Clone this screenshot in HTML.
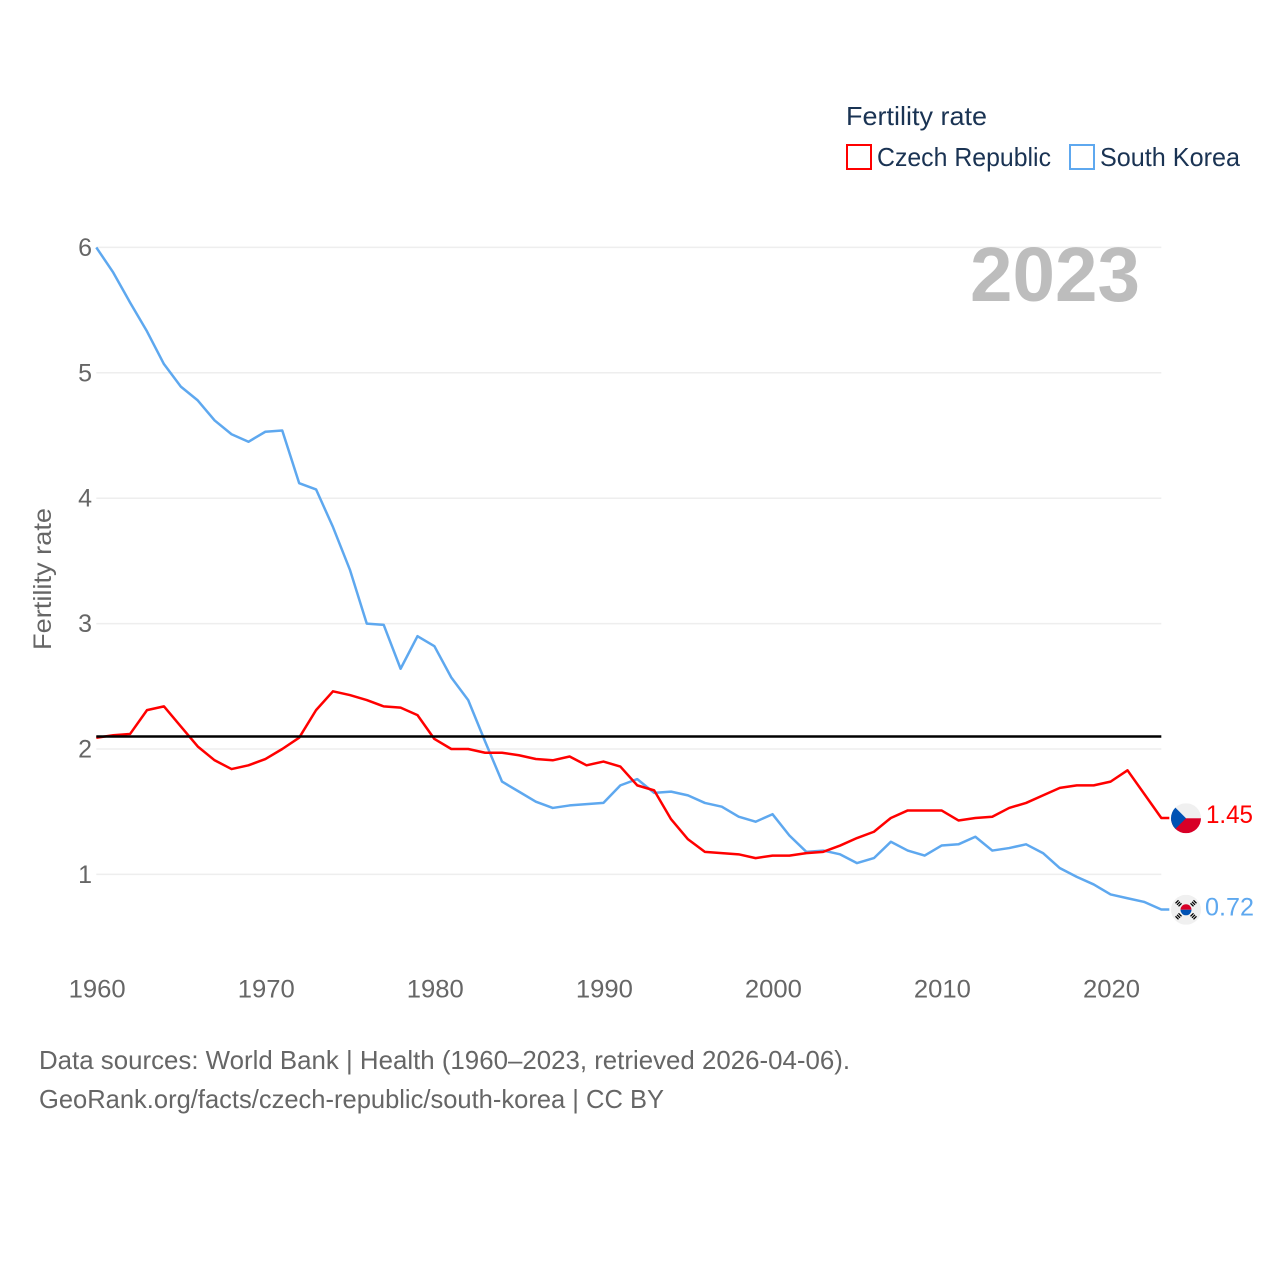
<!DOCTYPE html>
<html lang="en">
<head>
<meta charset="utf-8">
<title>Fertility rate: Czech Republic and South Korea</title>
<style>
html,body{margin:0;padding:0;background:#fff;width:1280px;height:1280px;overflow:hidden}
svg{display:block;font-family:"Liberation Sans",sans-serif}
</style>
</head>
<body>
<svg id="chart" xmlns="http://www.w3.org/2000/svg" width="1280" height="1280" viewBox="0 0 1280 1280">
  <defs>
    <clipPath id="flag-clip-cz"><circle id="cz-clip-circle" cx="1186" cy="818" r="15"></circle></clipPath>
    <clipPath id="flag-clip-kr"><circle id="kr-clip-circle" cx="1186" cy="909" r="15"></circle></clipPath>
  </defs>
  <g id="grid"></g>
  <text x="970" y="301" font-size="77" font-weight="bold" fill="#bdbdbd" textLength="170" lengthAdjust="spacingAndGlyphs">2023</text>
  <g id="yticks"></g>
  <g id="xticks"></g>
  <text transform="translate(51,650) rotate(-90)" font-size="25" fill="#666666" textLength="142" lengthAdjust="spacingAndGlyphs">Fertility rate</text>
  <g id="series"></g>
  <line id="replacement" stroke="#000000" stroke-width="2.5"></line>
  <g id="flags">
    <g id="flag-cz" clip-path="url(#flag-clip-cz)">
      <rect x="1171" y="803" width="30" height="15" fill="#f0f0f0"></rect>
      <rect x="1171" y="818" width="30" height="15" fill="#d80027"></rect>
      <polygon points="1171,803 1186,818 1171,833" fill="#0052b4"></polygon>
    </g>
    <g id="flag-kr" clip-path="url(#flag-clip-kr)">
      <rect x="1171" y="894" width="30" height="30" fill="#f0f0f0"></rect>
      <path d="M1180.500 909a5.500 5.500 0 0 1 11 0z" fill="#d80027"></path>
      <path d="M1180.500 909a5.500 5.500 0 0 0 11 0z" fill="#0052b4"></path>
      <path d="M1175.500 902.500l3-3M1177 904l3-3M1178.500 905.500l3-3M1190.500 902.500l3 3M1192 901l3 3M1193.500 899.500l3 3M1175.500 915.500l3 3M1177 914l3 3M1178.500 912.500l3 3M1190.500 915.500l3-3M1192 917l3-3M1193.500 918.500l3-3" stroke="#000000" stroke-width="1.300" fill="none"></path>
    </g>
  </g>
  <text id="label-cz" x="1206" y="823" font-size="25" fill="#ff0000" textLength="47" lengthAdjust="spacingAndGlyphs">1.45</text>
  <text id="label-kr" x="1205" y="915" font-size="25" fill="#5ea8ef" textLength="49" lengthAdjust="spacingAndGlyphs">0.72</text>

  <g>
    <text x="846" y="125" font-size="26" fill="#1a3353" textLength="141" lengthAdjust="spacingAndGlyphs">Fertility rate</text>
    <g>
      <rect x="847" y="145" width="24" height="24" fill="#ffffff" stroke="#ff0000" stroke-width="2"></rect>
      <text x="877" y="166" font-size="26" fill="#1a3353" textLength="174" lengthAdjust="spacingAndGlyphs">Czech Republic</text>
    </g>
    <g>
      <rect x="1070" y="145" width="24" height="24" fill="#ffffff" stroke="#5ea8ef" stroke-width="2"></rect>
      <text x="1100" y="166" font-size="26" fill="#1a3353" textLength="140" lengthAdjust="spacingAndGlyphs">South Korea</text>
    </g>
  </g>

  <text x="39" y="1069" font-size="26" fill="#666666" textLength="811" lengthAdjust="spacingAndGlyphs">Data sources: World Bank | Health (1960–2023, retrieved 2026-04-06).</text>
  <text x="39" y="1108" font-size="26" fill="#666666" textLength="625" lengthAdjust="spacingAndGlyphs">GeoRank.org/facts/czech-republic/south-korea | CC BY</text>
</svg>
<script>
const startYear = 1960;
const xTickYears = [1960, 1970, 1980, 1990, 2000, 2010, 2020];
const yTickValues = [1, 2, 3, 4, 5, 6];
const replacementRate = 2.1;
const czechRepublic = [2.09,2.11,2.12,2.31,2.34,2.18,2.02,1.91,1.84,1.87,1.92,2.00,2.09,2.31,2.46,2.43,2.39,2.34,2.33,2.27,2.08,2.00,2.00,1.97,1.97,1.95,1.92,1.91,1.94,1.87,1.90,1.86,1.71,1.67,1.44,1.28,1.18,1.17,1.16,1.13,1.15,1.15,1.17,1.18,1.23,1.29,1.34,1.45,1.51,1.51,1.51,1.43,1.45,1.46,1.53,1.57,1.63,1.69,1.71,1.71,1.74,1.83,1.64,1.45];
const southKorea = [6.00,5.80,5.56,5.33,5.07,4.89,4.78,4.62,4.51,4.45,4.53,4.54,4.12,4.07,3.77,3.43,3.00,2.99,2.64,2.90,2.82,2.57,2.39,2.06,1.74,1.66,1.58,1.53,1.55,1.56,1.57,1.71,1.76,1.65,1.66,1.63,1.57,1.54,1.46,1.42,1.48,1.31,1.18,1.19,1.16,1.09,1.13,1.26,1.19,1.15,1.23,1.24,1.30,1.19,1.21,1.24,1.17,1.05,0.98,0.92,0.84,0.81,0.78,0.72];

const NS = 'http://www.w3.org/2000/svg';
const X0 = 96.3, PER_YEAR = 16.905, Y1 = 874.4, PER_UNIT = 125.4, END_YEAR = 2023;
function xScale(year){ return X0 + (year - startYear) * PER_YEAR; }
function yScale(v){ return Y1 - (v - 1) * PER_UNIT; }
function make(tag, parent){ const n = document.createElementNS(NS, tag); parent.appendChild(n); return n; }

const grid = document.getElementById('grid');
const yticks = document.getElementById('yticks');
yTickValues.forEach(function(v){
  const l = make('line', grid);
  
  
  l.setAttribute('x1', xScale(startYear));
  l.setAttribute('x2', xScale(END_YEAR));
  l.setAttribute('y1', yScale(v));
  l.setAttribute('y2', yScale(v));
  l.setAttribute('stroke', '#eeeeee');
  l.setAttribute('stroke-width', '1.5');
  const t = make('text', yticks);
  
  
  t.setAttribute('x', 92);
  t.setAttribute('y', yScale(v) + 8.5);
  t.setAttribute('text-anchor', 'end');
  t.setAttribute('font-size', '25');
  t.setAttribute('fill', '#666666');
  t.textContent = v;
});

const xticks = document.getElementById('xticks');
xTickYears.forEach(function(year){
  const t = make('text', xticks);
  
  
  t.setAttribute('x', xScale(year) + 0.9);
  t.setAttribute('y', 997.500);
  t.setAttribute('text-anchor', 'middle');
  t.setAttribute('font-size', '25');
  t.setAttribute('fill', '#666666');
  t.setAttribute('textLength', '57');
  t.setAttribute('lengthAdjust', 'spacingAndGlyphs');
  t.textContent = year;
});

const seriesGroup = document.getElementById('series');
function drawSeries(values, color, name){
  const pts = values.map(function(v, i){ return xScale(startYear + i) + ',' + yScale(v); });
  pts.push((xScale(END_YEAR) + 8) + ',' + yScale(values[values.length - 1]));
  const p = make('polyline', seriesGroup);
  
  
  p.setAttribute('points', pts.join(' '));
  p.setAttribute('fill', 'none');
  p.setAttribute('stroke', color);
  p.setAttribute('stroke-width', '2.5');
  p.setAttribute('stroke-linejoin', 'round');
}
drawSeries(southKorea, '#5ea8ef', 'south-korea-line');
drawSeries(czechRepublic, '#ff0000', 'czech-republic-line');

const rep = document.getElementById('replacement');
rep.setAttribute('x1', xScale(startYear));
rep.setAttribute('x2', xScale(END_YEAR));
rep.setAttribute('y1', yScale(replacementRate));
rep.setAttribute('y2', yScale(replacementRate));

/* end markers follow the last value of each series */
function place(flagId, clipId, labelId, values, baseFlagY, baseLabelY){
  const last = values[values.length - 1];
  const cy = yScale(last) + 0.3;
  const dy = cy - baseFlagY;
  document.getElementById(clipId).setAttribute('cy', cy);
  document.getElementById(flagId).querySelectorAll(':scope > *').forEach(function(n){
    n.setAttribute('transform', 'translate(0,' + dy + ')');
  });
  const label = document.getElementById(labelId);
  label.setAttribute('y', baseLabelY + dy);
  label.textContent = last.toFixed(2);
}
place('flag-cz', 'cz-clip-circle', 'label-cz', czechRepublic, 818, 823 - 0.1);
place('flag-kr', 'kr-clip-circle', 'label-kr', southKorea, 909, 915 - 0.5);
</script>
</body>
</html>
